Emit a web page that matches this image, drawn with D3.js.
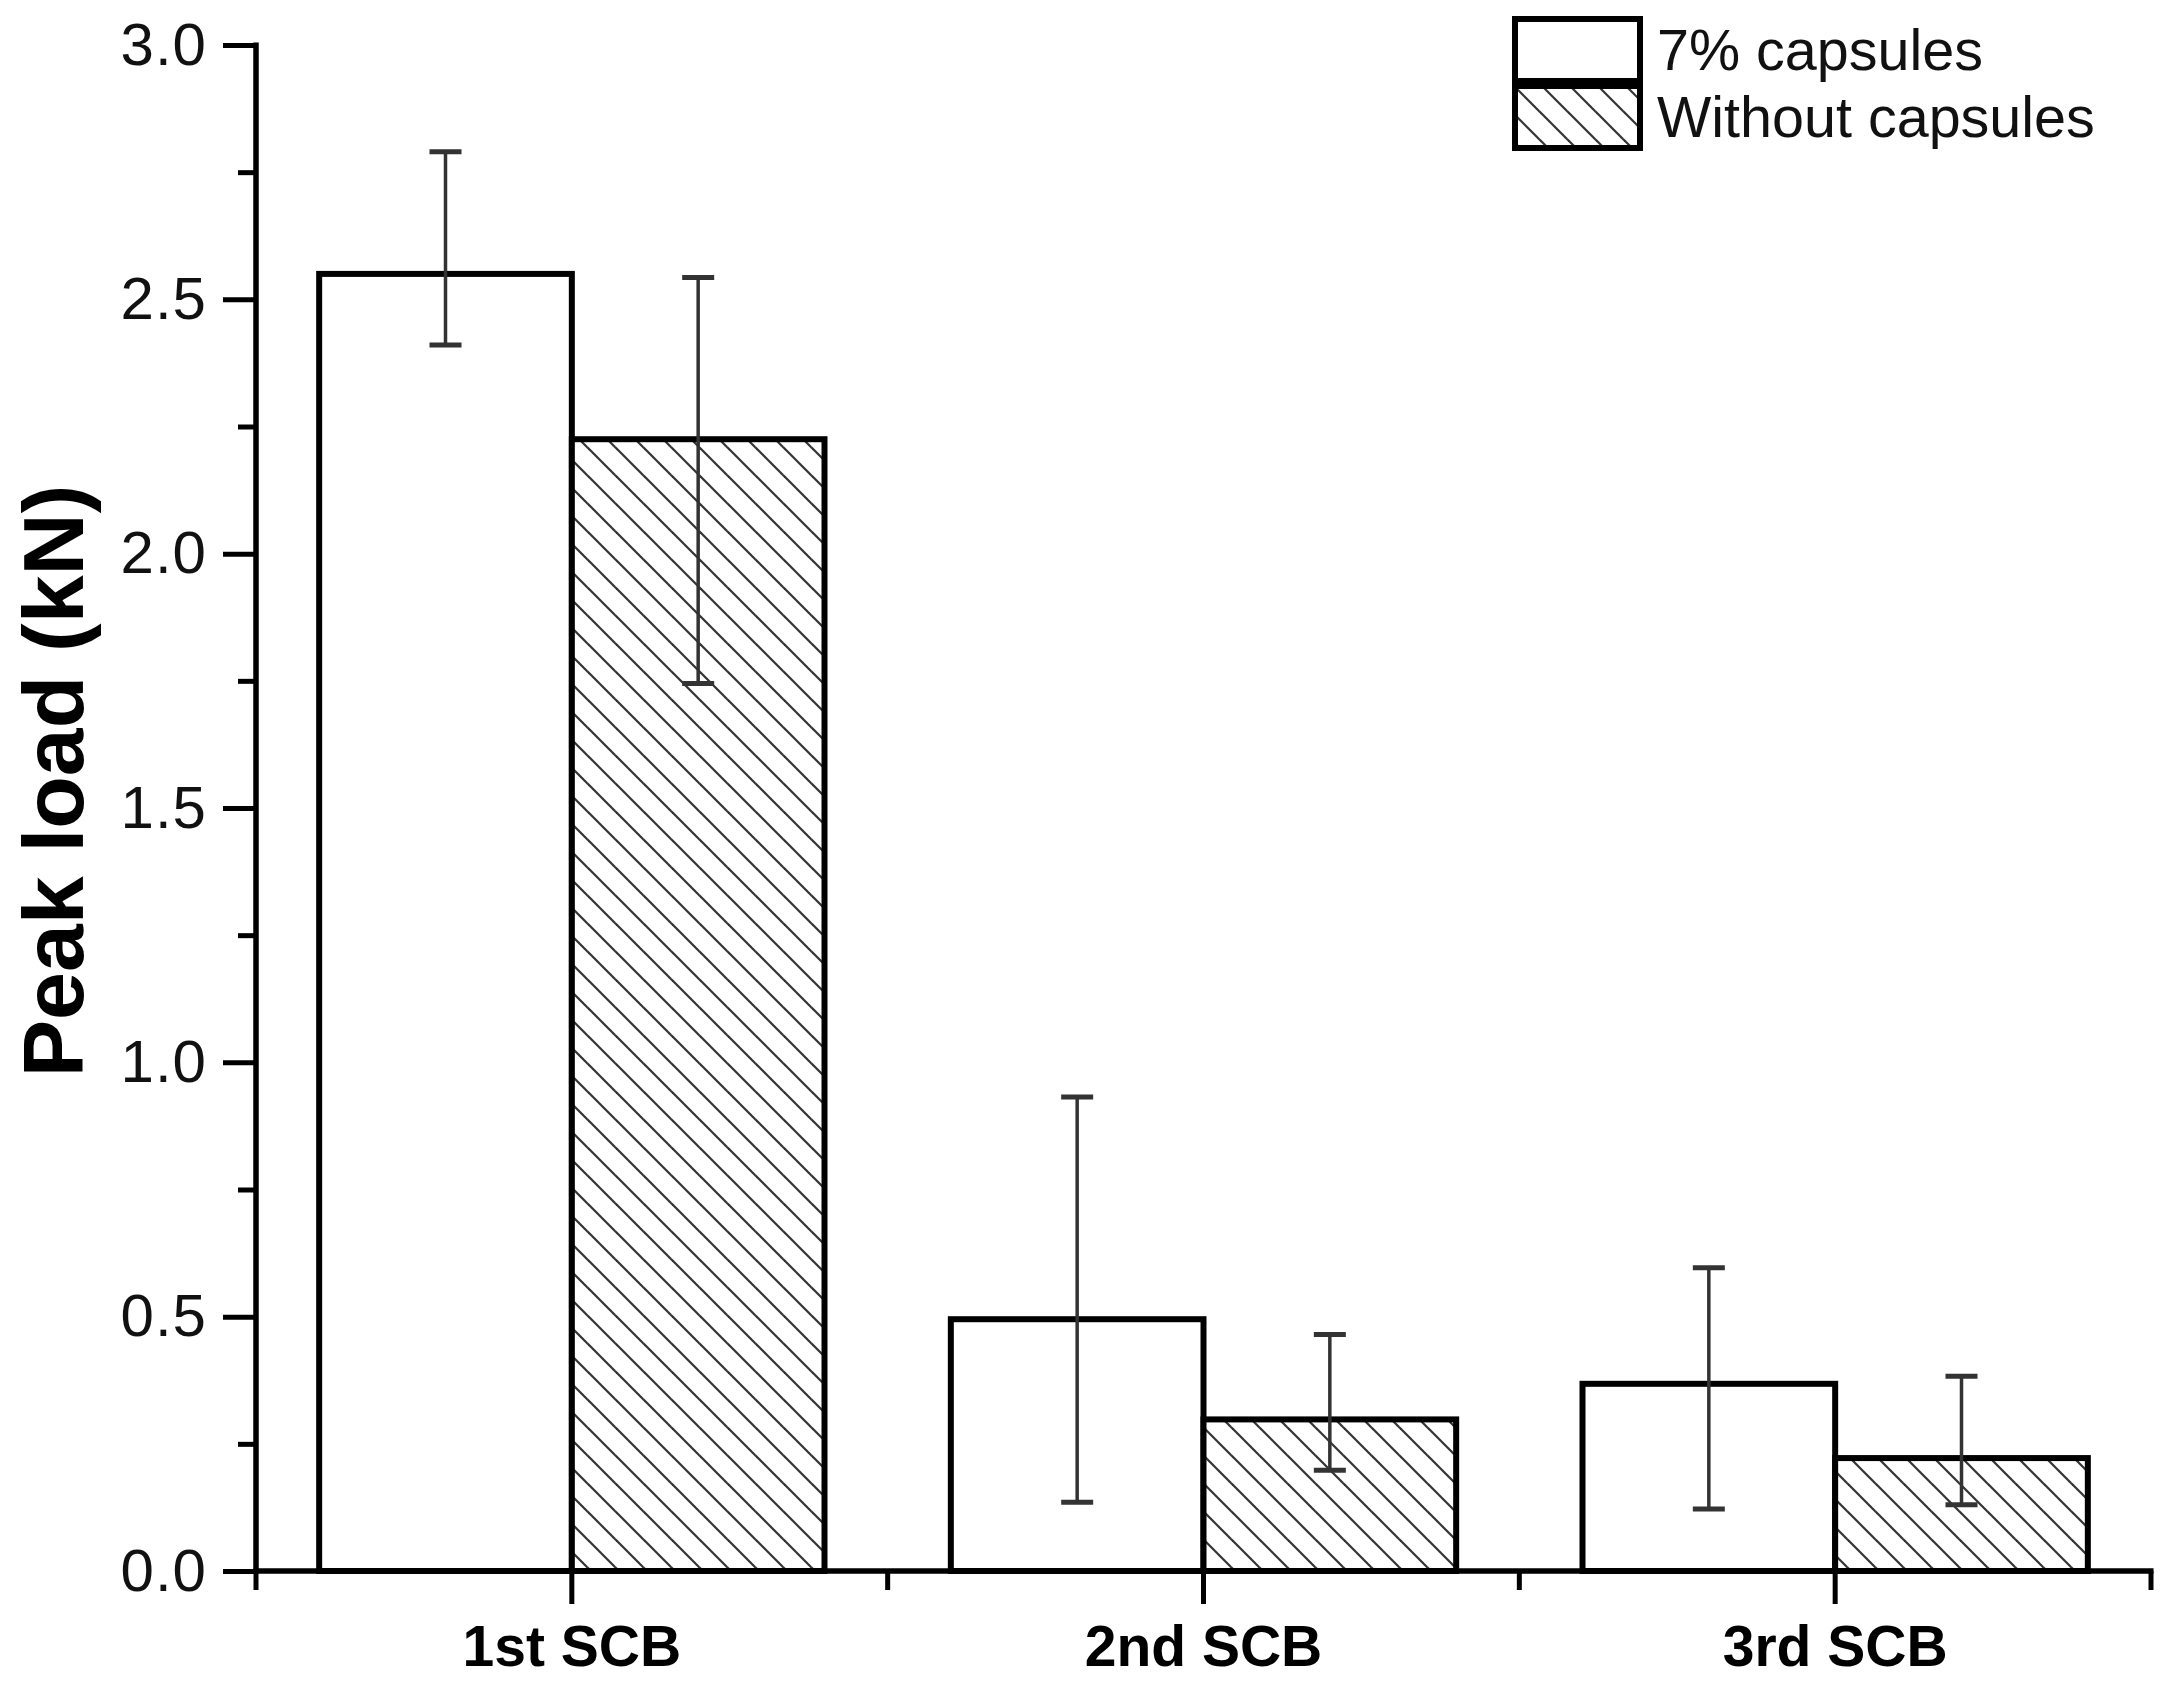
<!DOCTYPE html>
<html>
<head>
<meta charset="utf-8">
<script src="https://cdn.jsdelivr.net/npm/d3@7"></script>
<style>
html,body{margin:0;padding:0;background:#fff;}
svg{display:block;}
</style>
</head>
<body>
<script>
// ---- data ----
const categories = ["1st SCB", "2nd SCB", "3rd SCB"];
const seriesNames = ["7% capsules", "Without capsules"];
const valuesCaps = [2.55, 0.495, 0.368];
const valuesNoCaps = [2.225, 0.298, 0.222];
const errTopCaps = [2.79, 0.932, 0.596];
const errBotCaps = [2.41, 0.135, 0.122];
const errTopNoCaps = [2.543, 0.465, 0.383];
const errBotNoCaps = [1.745, 0.198, 0.130];
const yMajorTicks = [0.0, 0.5, 1.0, 1.5, 2.0, 2.5, 3.0];
const yMinorTicks = [0.25, 0.75, 1.25, 1.75, 2.25, 2.75];

const W = 2167, H = 1682;
const plotLeft = 256, plotRight = 2151, plotTop = 45, plotBottom = 1571;

const svg = d3.select("body").append("svg").attr("width", W).attr("height", H);

// hatch pattern
const defs = svg.append("defs");
const pat = defs.append("pattern").attr("id", "hatch")
  .attr("patternUnits", "userSpaceOnUse").attr("width", 28).attr("height", 28);
pat.append("rect").attr("width", 28).attr("height", 28).attr("fill", "#fff");
[[0,0,28,28],[-14,14,14,42],[14,-14,42,14]].forEach(l => {
  pat.append("line").attr("x1", l[0]).attr("y1", l[1]).attr("x2", l[2]).attr("y2", l[3])
    .attr("stroke", "#333").attr("stroke-width", 2.2);
});

const x = d3.scaleBand().domain(categories).range([plotLeft, plotRight]).paddingInner(0).paddingOuter(0);
const xs = d3.scaleBand().domain(seriesNames).range([0, x.bandwidth()]).paddingInner(0).paddingOuter(0.25);
const y = d3.scaleLinear().domain([0, 3]).range([plotBottom, plotTop]);

const data = [];
categories.forEach((c, i) => {
  data.push({cat: c, s: seriesNames[0], v: valuesCaps[i], hi: errTopCaps[i], lo: errBotCaps[i]});
  data.push({cat: c, s: seriesNames[1], v: valuesNoCaps[i], hi: errTopNoCaps[i], lo: errBotNoCaps[i]});
});
const fillOf = s => s === seriesNames[0] ? "#fff" : "url(#hatch)";

// bars
svg.append("g").selectAll("rect").data(data).join("rect")
  .attr("x", d => x(d.cat) + xs(d.s))
  .attr("y", d => y(d.v))
  .attr("width", xs.bandwidth())
  .attr("height", d => y(0) - y(d.v))
  .attr("fill", d => fillOf(d.s))
  .attr("stroke", "#000").attr("stroke-width", 6);

// error bars
const eg = svg.append("g").attr("stroke", "#333").attr("stroke-width", 3.5);
data.forEach(d => {
  const cx = x(d.cat) + xs(d.s) + xs.bandwidth() / 2;
  eg.append("line").attr("x1", cx).attr("x2", cx).attr("y1", y(d.hi)).attr("y2", y(d.lo));
  eg.append("line").attr("x1", cx - 16).attr("x2", cx + 16).attr("y1", y(d.hi)).attr("y2", y(d.hi)).attr("stroke-width", 5);
  eg.append("line").attr("x1", cx - 16).attr("x2", cx + 16).attr("y1", y(d.lo)).attr("y2", y(d.lo)).attr("stroke-width", 5);
});

// y axis
const yAxis = d3.axisLeft(y).tickValues(yMajorTicks).tickFormat(d3.format(".1f")).tickSize(33).tickPadding(16);
const yg = svg.append("g").attr("transform", `translate(${plotLeft},0)`).call(yAxis);
yg.select(".domain").remove();
yg.selectAll(".tick line").attr("stroke", "#000").attr("stroke-width", 5);
yg.selectAll(".tick text").attr("font-family", "Liberation Sans, Arial, sans-serif")
  .attr("font-size", 60).attr("letter-spacing", 1).attr("fill", "#111");
const yMinor = d3.axisLeft(y).tickValues(yMinorTicks).tickFormat("").tickSize(18);
const ymg = svg.append("g").attr("transform", `translate(${plotLeft},0)`).call(yMinor);
ymg.select(".domain").remove();
ymg.selectAll(".tick line").attr("stroke", "#000").attr("stroke-width", 5);
svg.append("line").attr("x1", plotLeft).attr("x2", plotLeft).attr("y1", plotTop - 2.5).attr("y2", plotBottom + 2.5)
  .attr("stroke", "#000").attr("stroke-width", 5.5);

// x axis
const xAxis = d3.axisBottom(x).tickSize(33).tickPadding(22);
const xg = svg.append("g").attr("transform", `translate(0,${plotBottom})`).call(xAxis);
xg.select(".domain").remove();
xg.selectAll(".tick line").attr("stroke", "#000").attr("stroke-width", 5);
xg.selectAll(".tick text").attr("font-family", "Liberation Sans, Arial, sans-serif")
  .attr("font-size", 57).attr("font-weight", "bold").attr("fill", "#000");
const bounds = [plotLeft].concat(categories.map(c => x(c) + x.bandwidth()));
svg.append("g").selectAll("line").data(bounds).join("line")
  .attr("x1", d => d).attr("x2", d => d).attr("y1", plotBottom).attr("y2", plotBottom + 19)
  .attr("stroke", "#000").attr("stroke-width", 5);
svg.append("line").attr("x1", plotLeft - 2.5).attr("x2", plotRight + 2.5).attr("y1", plotBottom).attr("y2", plotBottom)
  .attr("stroke", "#000").attr("stroke-width", 5.5);

// y label
svg.append("text").attr("transform", `translate(83,${(plotTop + plotBottom) / 2 - 27}) rotate(-90)`)
  .attr("text-anchor", "middle").attr("font-family", "Liberation Sans, Arial, sans-serif")
  .attr("font-size", 86).attr("font-weight", "bold").attr("fill", "#000")
  .text("Peak load (kN)");

// legend
const lg = svg.append("g");
seriesNames.forEach((s, i) => {
  const y0 = 19 + i * 67;
  lg.append("rect").attr("x", 1515).attr("y", y0).attr("width", 125).attr("height", 62)
    .attr("fill", fillOf(s)).attr("stroke", "#000").attr("stroke-width", 6);
  lg.append("text").attr("x", 1657).attr("y", y0 + 51)
    .attr("font-family", "Liberation Sans, Arial, sans-serif").attr("font-size", 57.5)
    .attr("fill", "#111").text(s);
});
</script>
</body>
</html>
